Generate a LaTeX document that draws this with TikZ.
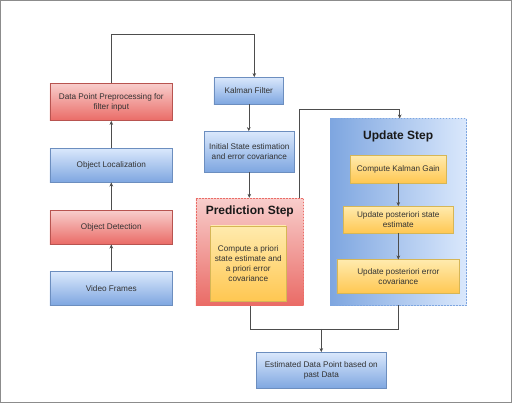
\documentclass[tikz,border=0pt]{standalone}
\usepackage{fontspec}
\setmainfont{Liberation Sans}
\usepackage{tikz}
\usetikzlibrary{positioning}
\usetikzlibrary{arrows.meta}
\usetikzlibrary{calc}

\definecolor{blueTop}{HTML}{DAE8FC}
\definecolor{blueBot}{HTML}{7EA6E0}
\definecolor{blueLine}{HTML}{6C8EBF}
\definecolor{redTop}{HTML}{F8CECC}
\definecolor{redBot}{HTML}{EA6B66}
\definecolor{redLine}{HTML}{B85450}
\definecolor{yelTop}{HTML}{FFF2CC}
\definecolor{yelBot}{HTML}{FFD966}
\definecolor{yelLine}{HTML}{D6B656}
\definecolor{textGray}{HTML}{333333}
\definecolor{wireGray}{HTML}{4D4D4D}
\definecolor{frameGray}{HTML}{8C8C8C}

\begin{document}
\begin{tikzpicture}[x=1pt, y=-1pt,
  box/.style={draw, align=center, inner sep=2pt, text=textGray,
    font=\fontsize{8.2}{10}\selectfont},
  bluebox/.style={box, draw=blueLine, top color=blueTop, bottom color=blueBot},
  redbox/.style={box, draw=redLine, top color=redTop, bottom color=redBot},
  yelbox/.style={box, draw=yelLine, top color=yelTop!70!yelBot, bottom color=yelBot!80!orange},
  group/.style={draw, dash pattern=on 1.5pt off 1.5pt},
  title/.style={font=\bfseries\fontsize{12}{14}\selectfont, text=black!90},
  wire/.style={draw=wireGray, line width=0.5pt},
  arr/.style={wire, -{Stealth[length=4pt,width=3.6pt]}}
]
\useasboundingbox (0,0) rectangle (512,403);
\draw[frameGray, line width=1.2pt] (0.6,0.6) rectangle (511.4,402.4);

% left column
\node[redbox, minimum width=122.7pt, minimum height=37.4pt] (prep) at (111.3,102) {Data Point Preprocessing for\\filter input};
\node[bluebox, minimum width=122.7pt, minimum height=34pt] (loc) at (111.3,165.3) {Object Localization};
\node[redbox, minimum width=122.7pt, minimum height=34pt] (det) at (111.3,227.3) {Object Detection};
\node[bluebox, minimum width=122.7pt, minimum height=33.6pt] (video) at (111.3,288.5) {Video Frames};

% kalman column
\node[bluebox, minimum width=69.7pt, minimum height=27pt] (kalman) at (248.8,90.8) {Kalman Filter};
\node[bluebox, minimum width=89.3pt, minimum height=40.7pt] (init) at (249.3,151.7) {Initial State estimation\\and error covariance};

% prediction step
\node[group, draw=redBot, top color=redTop, bottom color=redBot, minimum width=107.7pt, minimum height=107.3pt] (pred) at (249.8,251.7) {};
\node[title] (predtitle) at (249.8,211.3) {Prediction Step};
\node[yelbox, minimum width=75.3pt, minimum height=75pt] (priori) at (248.3,263.5) {Compute a priori\\state estimate and\\a priori error\\covariance};

% update step
\node[group, draw=blueBot, left color=blueBot, right color=blueTop, minimum width=136.3pt, minimum height=186.6pt] (update) at (398.2,212) {};
\node[title] (updtitle) at (398.2,136.3) {Update Step};
\node[yelbox, minimum width=96pt, minimum height=27.7pt] (gain) at (398.3,169.2) {Compute Kalman Gain};
\node[yelbox, minimum width=109.6pt, minimum height=27pt] (post) at (398.3,219.8) {Update posteriori state\\estimate};
\node[yelbox, minimum width=122.7pt, minimum height=33.6pt] (err) at (398.3,276.5) {Update posteriori error\\covariance};

% output
\node[bluebox, minimum width=130pt, minimum height=36.4pt] (est) at (321.3,370.5) {Estimated Data Point based on\\past Data};

% connectors
\coordinate (topbend) at (111.3,34.3);
\coordinate (predbend) at (299,109.3);
\coordinate (merge) at (321.3,329);

\draw[arr] (video) -- (det);
\draw[arr] (det) -- (loc);
\draw[arr] (loc) -- (prep);
\draw[arr] (prep.north) -- (topbend) -| ([xshift=5.5pt]kalman.north);
\draw[arr] (kalman.south) -- (kalman.south |- init.north);
\draw[arr] (init.south) -- (init.south |- pred.north);
\draw[arr] (pred.north -| predbend) -- (predbend) -| ([xshift=1.5pt]update.north);
\draw[arr] (gain) -- (post);
\draw[arr] (post) -- (err);
\draw[wire] (pred.south) |- (merge);
\draw[wire] (update.south) |- (merge);
\draw[arr] (merge) -- (est);
\end{tikzpicture}
\end{document}
